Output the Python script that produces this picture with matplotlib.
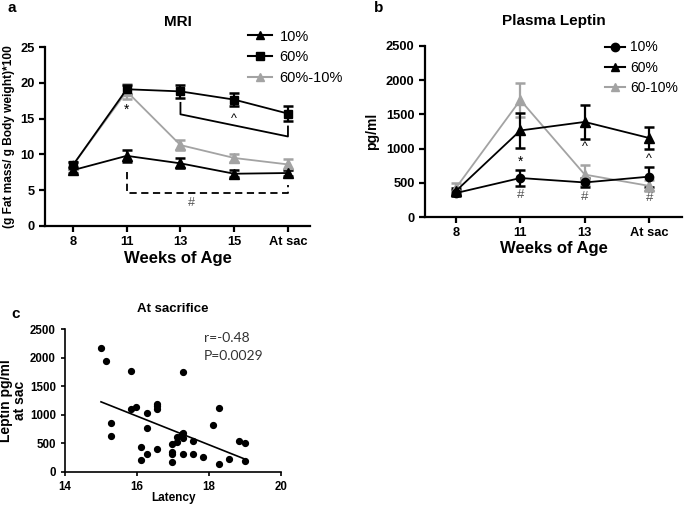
import matplotlib
matplotlib.use("Agg")
import matplotlib.pyplot as plt
from matplotlib.lines import Line2D
import numpy as np

plt.rcParams['font.family'] = ['Liberation Sans', 'DejaVu Sans']

GRAY = '#a3a3a3'

# ---------------- Panel a: MRI ----------------
mri_weeks = ['8', '11', '13', '15', 'At sac']
mri_10 = [7.8, 9.8, 8.75, 7.3, 7.4]
mri_10_err = [0.4, 0.8, 0.7, 0.5, 0.4]
mri_60 = [8.5, 19.1, 18.8, 17.65, 15.7]
mri_60_err = [0.4, 0.6, 0.9, 0.9, 1.0]
mri_6010 = [8.5, 18.8, 11.3, 9.5, 8.6]
mri_6010_err = [0.4, 1.0, 0.7, 0.6, 0.75]

# ---------------- Panel b: Plasma Leptin ----------------
lep_weeks = ['8', '11', '13', 'At sac']
lep_10 = [350, 570, 505, 590]
lep_10_err = [40, 110, 70, 145]
lep_60 = [380, 1265, 1390, 1155]
lep_60_err = [40, 255, 245, 160]
lep_6010 = [425, 1710, 620, 455]
lep_6010_err = [75, 255, 145, 80]

# ---------------- Panel c: scatter ----------------
latency = [15.0, 15.14, 15.84, 17.27, 15.83, 15.97, 15.27, 15.27, 16.27, 16.27,
           16.55, 16.55, 16.55, 16.12, 16.12, 16.27, 16.55, 16.97, 16.97, 16.97,
           16.97, 17.1, 17.12, 17.25, 17.27, 17.27, 17.27, 17.55, 17.55, 17.84,
           18.12, 18.27, 18.27, 18.55, 18.82, 18.99, 18.99]
leptin_sac = [2170, 1940, 1760, 1750, 1110, 1139, 859, 625, 1034, 765,
              1197, 1150, 1104, 438, 204, 310, 403, 496, 345, 310,
              181, 526, 613, 660, 683, 600, 310, 543, 321, 263,
              829, 1116, 146, 228, 543, 508, 193]

fig = plt.figure(figsize=(6.85, 5.07), dpi=100)
W, H = 685, 507

def ax_px(left, right, top, bottom):
    return fig.add_axes([left / W, 1 - bottom / H, (right - left) / W, (bottom - top) / H])

def style(ax, lw=1.6):
    for s in ['top', 'right']:
        ax.spines[s].set_visible(False)
    for s in ['left', 'bottom']:
        ax.spines[s].set_linewidth(lw)
    ax.tick_params(direction='out', width=lw, length=4)

def leg_handle(color, marker, ms=6):
    return Line2D([], [], color=color, marker=marker, lw=1.5, ms=ms)

# ===== Panel a =====
axa = ax_px(45, 310, 47, 226)
xa = np.arange(len(mri_weeks))
ekw = dict(capsize=3.4, capthick=1.8, elinewidth=1.6, lw=1.3, ms=6.5)
axa.errorbar(xa, mri_6010, yerr=mri_6010_err, color=GRAY, marker='^', **ekw)
axa.errorbar(xa, mri_10, yerr=mri_10_err, color='black', marker='^', **ekw)
axa.errorbar(xa, mri_60, yerr=mri_60_err, color='black', marker='s', **dict(ekw, ms=6))
axa.set_xlim(-0.52, 4.41)
axa.set_ylim(0, 25)
axa.set_yticks([0, 5, 10, 15, 20, 25])
axa.set_xticks(xa)
axa.set_xticklabels(mri_weeks)
style(axa)
for lab in axa.get_xticklabels() + axa.get_yticklabels():
    lab.set_fontweight('bold')
    lab.set_fontsize(9.3)
axa.set_title('MRI', fontsize=11, fontweight='bold', pad=15)
axa.set_xlabel('Weeks of Age', fontsize=12, fontweight='bold', labelpad=1.5)
axa.set_ylabel('(g Fat mass/ g Body weight)*100', fontsize=8.6, fontweight='bold', labelpad=4)
axa.yaxis.set_label_coords(-30 / 265, 0.5)
# brackets
axa.plot([2, 2, 4, 4], [17.2, 15.6, 12.5, 13.9], color='black', lw=1.3)
axa.text(3, 14.9, '^', ha='center', va='center', fontsize=9)
axa.plot([1, 1, 4, 4], [7.6, 4.65, 4.65, 5.7], color='black', lw=1.3, ls=(0, (4, 2.5)))
axa.text(2.2, 3.25, '#', ha='center', va='center', fontsize=9, color='#555555')
axa.text(1, 16.2, '*', ha='center', va='center', fontsize=10)
axa.legend([leg_handle('black', '^'), leg_handle('black', 's', 5.5), leg_handle(GRAY, '^')],
           ['10%', '60%', '60%-10%'], loc='upper left',
           bbox_to_anchor=(0.745, 1.13), frameon=False, fontsize=10.5,
           handlelength=1.6, handletextpad=0.55, labelspacing=0.45, borderaxespad=0)

# ===== Panel b =====
axb = ax_px(425, 682, 46, 217)
xb = np.arange(len(lep_weeks))
axb.errorbar(xb, lep_6010, yerr=lep_6010_err, color=GRAY, marker='^', **ekw)
axb.errorbar(xb, lep_60, yerr=lep_60_err, color='black', marker='^', **ekw)
axb.errorbar(xb, lep_10, yerr=lep_10_err, color='black', marker='o', **dict(ekw, ms=6))
axb.set_xlim(-0.48, 3.51)
axb.set_ylim(0, 2500)
axb.set_yticks([0, 500, 1000, 1500, 2000, 2500])
axb.set_xticks(xb)
axb.set_xticklabels(lep_weeks)
style(axb)
for lab in axb.get_xticklabels() + axb.get_yticklabels():
    lab.set_fontweight('bold')
    lab.set_fontsize(9.3)
axb.set_title('Plasma Leptin', fontsize=11, fontweight='bold', pad=15)
axb.set_xlabel('Weeks of Age', fontsize=12, fontweight='bold', labelpad=1.5)
axb.set_ylabel('pg/ml', fontsize=10, fontweight='bold')
axb.yaxis.set_label_coords(-46 / 257, 0.5)
axb.text(1, 800, '*', ha='center', va='center', fontsize=10)
axb.text(2, 1020, '^', ha='center', va='center', fontsize=9)
axb.text(3, 850, '^', ha='center', va='center', fontsize=9)
for xi, yi in [(1, 320), (2, 295), (3, 275)]:
    axb.text(xi, yi, '#', ha='center', va='center', fontsize=9.5, color='#555555')
axb.legend([leg_handle('black', 'o'), leg_handle('black', '^'), leg_handle(GRAY, '^')],
           ['10%', '60%', '60-10%'], loc='upper left',
           bbox_to_anchor=(0.68, 1.065), frameon=False, fontsize=10,
           handlelength=1.4, handletextpad=0.4, labelspacing=0.45, borderaxespad=0)

# ===== Panel c =====
axc = ax_px(65, 281, 329, 472)
axc.plot(latency, leptin_sac, 'o', color='black', ms=4.2)
slope, icpt = np.polyfit(latency, leptin_sac, 1)
xl = np.array([min(latency), max(latency)])
axc.plot(xl, slope * xl + icpt, color='black', lw=1.2)
axc.set_xlim(14, 20)
axc.set_ylim(0, 2500)
axc.set_xticks([14, 16, 18, 20])
axc.set_yticks([0, 500, 1000, 1500, 2000, 2500])
style(axc, lw=1.2)
axc.tick_params(length=3)
for lab in axc.get_xticklabels() + axc.get_yticklabels():
    lab.set_fontweight('bold')
    lab.set_fontsize(8.3)
axc.set_title('At sacrifice', fontsize=9.5, fontweight='bold', pad=12)
axc.set_xlabel('Latency', fontsize=8.5, fontweight='bold')
axc.xaxis.set_label_coords(0.5, -20 / 143)
axc.set_ylabel('Leptin pg/ml\nat sac', fontsize=10, fontweight='bold', labelpad=2, linespacing=1.0)
axc.text(17.85, 2340, 'r=-0.48', fontsize=10, family=['Lato', 'DejaVu Sans'], color='#333333', va='center')
axc.text(17.85, 2030, 'P=0.0029', fontsize=10, family=['Lato', 'DejaVu Sans'], color='#333333', va='center')

# panel letters
fig.text(8 / W, 1 - 8 / H, 'a', fontsize=11, fontweight='bold', va='center')
fig.text(374 / W, 1 - 8 / H, 'b', fontsize=11, fontweight='bold', va='center')
fig.text(11 / W, 1 - 314 / H, 'c', fontsize=11, fontweight='bold', va='center')

fig.savefig('out.png', dpi=100)
